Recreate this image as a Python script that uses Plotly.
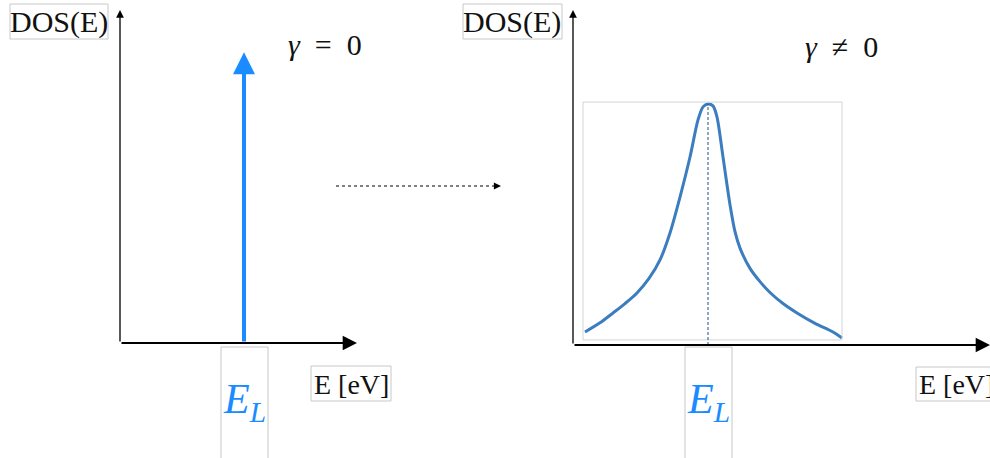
import plotly.graph_objects as go

# Broadened density of states (gamma != 0), energy relative to E_L
curve_E = [-1.23, -1.08, -0.95, -0.83, -0.71, -0.59, -0.48, -0.38, -0.28, -0.18, -0.10, -0.05, 0.0,
           0.05, 0.09, 0.15, 0.22, 0.27, 0.32, 0.42, 0.52, 0.62, 0.75, 0.89, 1.07, 1.25, 1.34]
curve_dos = [0.054, 0.092, 0.133, 0.172, 0.216, 0.276, 0.353, 0.465, 0.614, 0.780, 0.934, 0.988, 1.0,
             0.992, 0.946, 0.780, 0.582, 0.470, 0.402, 0.318, 0.263, 0.218, 0.172, 0.133, 0.090, 0.054, 0.029]

# Delta peak (gamma = 0)
delta_E = 0.0
delta_height = 1.207

W, H = 990, 458
SERIF = "Liberation Serif"
BLUE = "#1a8cff"
CURVE = "#3b7dbf"
GREY = "#c8c8c8"

# Panel axis extents (data units)
x1_range = [-1.24, 1.13]
y1_range = [0, 1.382]
x2_range = [-1.35, 2.82]
y2_range = [0, 1.39]


def px(x):
    return x / W


def py(y):
    return 1 - y / H


fig = go.Figure()

fig.add_trace(go.Scatter(
    x=curve_E, y=curve_dos, mode="lines",
    line=dict(color=CURVE, width=3, shape="spline", smoothing=0.8),
    xaxis="x2", yaxis="y2", hoverinfo="skip", showlegend=False))

axis_common = dict(visible=False, fixedrange=True)
fig.update_layout(
    width=W, height=H, margin=dict(l=0, r=0, t=0, b=0),
    paper_bgcolor="white", plot_bgcolor="rgba(0,0,0,0)",
    xaxis=dict(domain=[px(120), px(357)], range=x1_range, **axis_common),
    yaxis=dict(domain=[py(343), py(10)], range=y1_range, **axis_common),
    xaxis2=dict(domain=[px(573), 1.0], range=x2_range, anchor="y2", **axis_common),
    yaxis2=dict(domain=[py(345), py(10)], range=y2_range, anchor="x2", **axis_common),
    showlegend=False,
)

shapes = []
# inner frame around the broadened curve
shapes.append(dict(type="rect", xref="x2", yref="y2", x0=-1.25, x1=1.34, y0=0.021, y1=1.008,
                   line=dict(color="#d4d4d4", width=1)))
# dashed marker at E_L
shapes.append(dict(type="line", xref="x2", yref="y2", x0=0, x1=0, y0=0, y1=1.0,
                   line=dict(color="#1f4f80", width=1, dash="3px,2px")))
# label boxes
for (x0, y0, x1, y1) in [(10, 4, 108, 39), (463, 4, 562, 39),
                         (221, 347, 268, 470), (685, 347, 732, 470),
                         (311, 366, 391, 401), (916, 367, 995, 401)]:
    shapes.append(dict(type="rect", xref="paper", yref="paper",
                       x0=px(x0), x1=px(x1), y0=py(y1), y1=py(y0),
                       line=dict(color=GREY, width=1)))
# dashed arrow between panels
shapes.append(dict(type="line", xref="paper", yref="paper", x0=px(336), x1=px(494),
                   y0=py(186), y1=py(186), line=dict(color="black", width=1, dash="3px,3px")))
fig.update_layout(shapes=shapes)

ann = []


def arrow(x, y, ax, ay, xr, yr, color, width, size, head=2):
    ann.append(dict(x=x, y=y, ax=ax, ay=ay, xref=xr, yref=yr, axref=xr, ayref=yr,
                    text="", showarrow=True, arrowhead=head, arrowsize=size,
                    arrowwidth=width, arrowcolor=color, standoff=0, startstandoff=0))


# left panel axes
arrow(x1_range[1], 0, x1_range[0], 0, "x", "y", "black", 2.2, 1.3)
arrow(x1_range[0], y1_range[1], x1_range[0], 0, "x", "y", "black", 1.3, 1.2)
# delta peak
arrow(delta_E, delta_height, delta_E, 0, "x", "y", BLUE, 4, 1.1)
# right panel axes
arrow(x2_range[1], 0, x2_range[0], 0, "x2", "y2", "black", 2.2, 1.3)
arrow(x2_range[0], y2_range[1], x2_range[0], 0, "x2", "y2", "black", 1.3, 1.2)
# head of the dashed arrow
ann.append(dict(x=px(501), y=py(186), ax=-8, ay=0, xref="paper", yref="paper",
                text="", showarrow=True, arrowhead=2, arrowsize=1.1, arrowwidth=1.3,
                arrowcolor="black", standoff=0))


def label(text, x, y, size, color="#111111", xr="paper"):
    ann.append(dict(text=text, x=x, y=y, xref=xr, yref="paper", showarrow=False,
                    xanchor="center", yanchor="middle",
                    font=dict(family=SERIF, size=size, color=color)))


label("DOS(E)", px(59), py(22), 30)
label("DOS(E)", px(512), py(22), 30)
label("<i>γ</i>  =  0", px(325), py(45), 30)
label("<i>γ</i>  ≠  0", px(841), py(47), 30)
label("E [eV]", px(351), py(384), 28)
label("E [eV]", px(956), py(384), 28)
label("<i>E</i><sub><i>L</i></sub>", delta_E, py(402), 42, BLUE, "x")
label("<i>E</i><sub><i>L</i></sub>", 0, py(402), 42, BLUE, "x2")

fig.update_layout(annotations=ann)

fig.write_html("out.html")
